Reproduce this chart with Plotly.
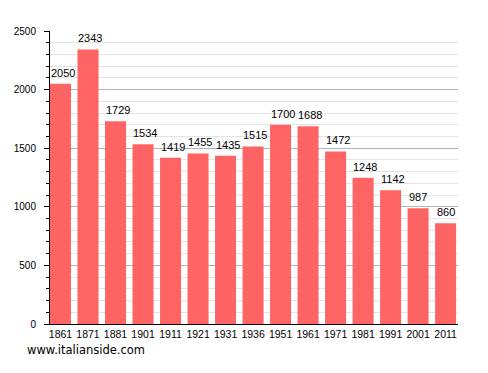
import plotly.graph_objects as go

years = ["1861", "1871", "1881", "1901", "1911", "1921", "1931", "1936",
         "1951", "1961", "1971", "1981", "1991", "2001", "2011"]
population = [2050, 2343, 1729, 1534, 1419, 1455, 1435, 1515,
              1700, 1688, 1472, 1248, 1142, 987, 860]

labels = [str(v) for v in population]
xpos = list(range(len(years)))

fig = go.Figure()
fig.add_bar(
    x=xpos, y=population, width=0.764,
    marker=dict(color="#FF6464", line=dict(width=0)),
    hoverinfo="skip",
)

bar_labels = [
    dict(x=x, y=v, text=t, xref="x", yref="y", xanchor="center", yanchor="bottom",
         yshift=3, xshift=2 if len(t) > 3 else 0, showarrow=False,
         font=dict(family="Liberation Sans", size=11, color="black"))
    for x, v, t in zip(xpos, population, labels)
]

watermark = dict(
    text="www.italianside.com", xref="paper", yref="paper",
    x=-25 / 408, y=-26 / 293, xanchor="left", yanchor="middle",
    showarrow=False, font=dict(family="DejaVu Sans", size=11.5, color="black"),
)

fig.update_layout(
    width=488, height=373,
    margin=dict(l=50, r=30, t=31, b=49),
    paper_bgcolor="white", plot_bgcolor="white",
    showlegend=False,
    font=dict(family="Liberation Sans", size=10, color="black"),
    xaxis=dict(
        range=[-0.382, 14.45], tickvals=xpos, ticktext=years,
        showgrid=False, zeroline=False, showline=True, linecolor="black",
        linewidth=1, ticks="", tickfont=dict(size=10.5, color="black"),
    ),
    yaxis=dict(
        range=[0, 2500], tick0=0, dtick=500,
        showgrid=True, gridcolor="#b4b4b4", gridwidth=1,
        zeroline=False, showline=True, linecolor="black", linewidth=1,
        ticks="outside", ticklen=5, tickcolor="black", tickwidth=1,
        ticklabelstandoff=6,
        tickfont=dict(size=10, color="black"),
        minor=dict(dtick=100, showgrid=True, gridcolor="#e4e4e4", gridwidth=1,
                   ticks="outside", ticklen=3, tickcolor="black", tickwidth=1),
    ),
    annotations=bar_labels + [watermark],
)

fig.write_html("out.html")
